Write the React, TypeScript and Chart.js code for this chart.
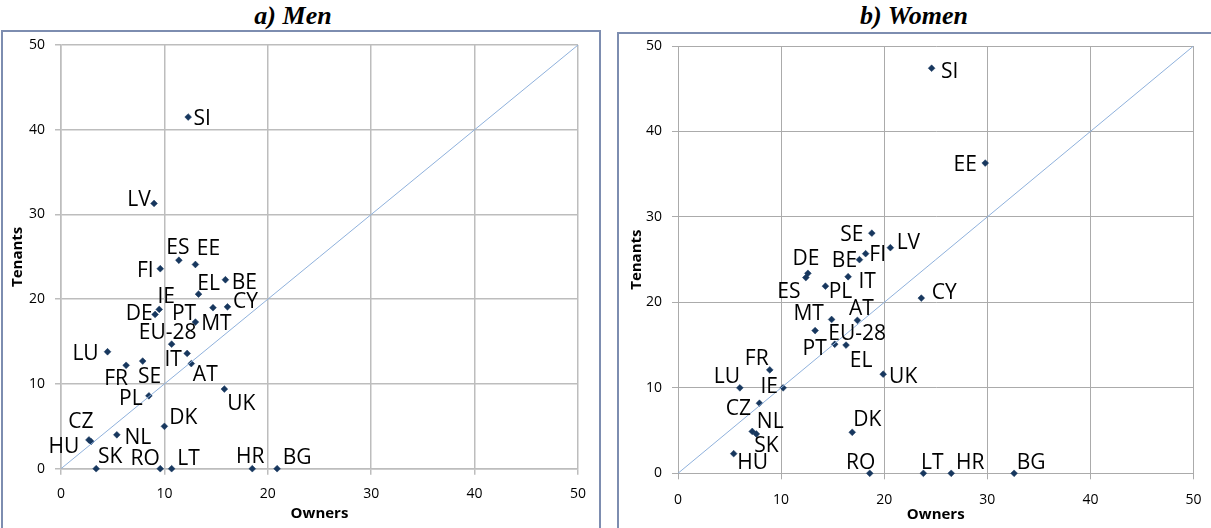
import React, { useEffect, useRef } from "react";
import { Chart, registerables } from "chart.js";
Chart.register(...registerables);

// ---- Data: a) Men ----
const menCountries = ["SI", "LV", "ES", "EE", "FI", "EL", "BE", "IE", "DE", "PT", "CY", "MT", "EU-28", "LU", "IT", "SE", "FR", "AT", "UK", "PL", "DK", "NL", "CZ", "HU", "SK", "RO", "LT", "HR", "BG"];
const menOwners = [12.3, 9.0, 11.4, 13.0, 9.6, 13.3, 15.9, 9.5, 9.1, 14.7, 16.1, 13.0, 10.7, 4.5, 12.2, 7.9, 6.3, 12.6, 15.8, 8.5, 10.0, 5.4, 2.7, 2.9, 3.4, 9.6, 10.7, 18.5, 20.9];
const menTenants = [41.5, 31.3, 24.6, 24.1, 23.6, 20.6, 22.3, 18.8, 18.2, 19.0, 19.1, 17.3, 14.7, 13.8, 13.6, 12.7, 12.2, 12.4, 9.4, 8.6, 5.0, 4.0, 3.4, 3.2, 0, 0, 0, 0, 0];

// ---- Data: b) Women ----
const womenCountries = ["SI", "EE", "SE", "LV", "FI", "BE", "DE", "ES", "IT", "PL", "CY", "AT", "MT", "EU-28", "PT", "EL", "UK", "FR", "LU", "IE", "CZ", "NL", "SK", "HU", "DK", "RO", "LT", "HR", "BG"];
const womenOwners = [24.6, 29.8, 18.8, 20.6, 18.2, 17.6, 12.6, 12.4, 16.5, 14.3, 23.6, 17.4, 14.9, 13.3, 15.2, 16.3, 19.9, 8.9, 6.0, 10.2, 7.9, 7.2, 7.6, 5.4, 16.9, 18.6, 23.8, 26.5, 32.6];
const womenTenants = [47.4, 36.3, 28.1, 26.4, 25.7, 25.0, 23.4, 22.9, 23.0, 21.9, 20.5, 17.9, 18.0, 16.7, 15.1, 15.0, 11.6, 12.1, 10.0, 10.0, 8.2, 4.9, 4.6, 2.3, 4.8, 0, 0, 0, 0];

// ---- Axes ----
const axisMin = 0;
const axisMax = 50;
const axisStep = 10;
const diagonalEnds = [0, 50];

// label placement (pixel offsets of label centre from its marker)
const menLabelOffsets: Record<string, [number, number]> = {
  SI: [14, 0], LV: [-15, -5], ES: [-1, -14], EE: [13, -17], FI: [-15, 1], EL: [10, -12],
  BE: [19, 2], IE: [7, -14], DE: [-16, -2], PT: [-29, 5], CY: [18, -6], MT: [21, 0],
  "EU-28": [-4, -13], LU: [-22, 1], IT: [-14, 5], SE: [7, 14], FR: [-10, 12], AT: [14, 10],
  UK: [17, 13], PL: [-18, 2], DK: [19, -10], NL: [21, 2], CZ: [-8, -19], HU: [-27, 4],
  SK: [14, -13], RO: [-15, -11], LT: [17, -11], HR: [-2, -13], BG: [20, -12],
};
const womenLabelOffsets: Record<string, [number, number]> = {
  SI: [18, 2], EE: [-20, 0], SE: [-20, 0], LV: [18, -6], FI: [12, 0], BE: [-15, 0],
  DE: [-2, -16], ES: [-17, 13], IT: [19, 4], PL: [15, 4], CY: [23, -7], AT: [4, -13],
  MT: [-23, -7], "EU-28": [42, 2], PT: [-20, 3], EL: [15, 14], UK: [20, 1], FR: [-13, -12],
  LU: [-13, -12], IE: [-14, -2], CZ: [-21, 4], NL: [18, -11], SK: [10, 11], HU: [19, 8],
  DK: [15, -14], RO: [-9, -12], LT: [9, -12], HR: [19, -12], BG: [17, -12],
};

type PanelProps = {
  names: string[];
  owners: number[];
  tenants: number[];
  offsets: Record<string, [number, number]>;
  width: number;
  height: number;
  yAxisWidth: number;
  xAxisHeight: number;
  padRight: number;
  padTop: number;
  yTitlePad: number;
  xTitlePad: number;
  xTickPad: number;
  gridColor: string;
  gridWidth: number;
};

function Panel(p: PanelProps) {
  const ref = useRef<HTMLCanvasElement | null>(null);
  useEffect(() => {
    if (!ref.current) return;
    const labelFontSize = 21;
    const labelPlugin = {
      id: "countryLabels",
      afterDatasetsDraw(chart: any) {
        const ctx = chart.ctx;
        const meta = chart.getDatasetMeta(1);
        ctx.save();
        ctx.font = `${labelFontSize}px "Open Sans"`;
        ctx.fillStyle = "#000000";
        ctx.textAlign = "center";
        ctx.textBaseline = "alphabetic";
        meta.data.forEach((el: any, i: number) => {
          const name = p.names[i];
          const off = p.offsets[name] || [12, 0];
          ctx.fillText(name, el.x + off[0], el.y + off[1] + labelFontSize * 0.357);
        });
        ctx.restore();
      },
    };
    const points = p.owners.map((o, i) => ({ x: o, y: p.tenants[i] }));
    const diag = diagonalEnds.map((v) => ({ x: v, y: v }));
    const tickFont = { family: "Open Sans", size: 14 };
    const chart = new Chart(ref.current, {
      type: "scatter",
      data: {
        datasets: [
          {
            data: diag,
            showLine: true,
            borderColor: "#8fb1dc",
            borderWidth: 1,
            pointRadius: 0,
            pointHoverRadius: 0,
          } as any,
          {
            data: points,
            pointStyle: "rectRot",
            pointRadius: 3.4,
            pointBackgroundColor: "#17375e",
            pointBorderColor: "#17375e",
            pointBorderWidth: 0.5,
            showLine: false,
            clip: false,
          } as any,
        ],
      },
      options: {
        responsive: false,
        animation: false,
        events: [],
        layout: { padding: { left: 0, right: p.padRight, top: p.padTop, bottom: 0 } },
        plugins: { legend: { display: false }, tooltip: { enabled: false }, title: { display: false } },
        scales: {
          x: {
            type: "linear",
            min: axisMin,
            max: axisMax,
            afterFit: (s: any) => { s.height = p.xAxisHeight; s.paddingLeft = 0; s.paddingRight = 0; },
            ticks: { stepSize: axisStep, color: "#000", font: tickFont, padding: p.xTickPad, maxRotation: 0 },
            grid: { color: p.gridColor, lineWidth: p.gridWidth, tickLength: 6, tickColor: p.gridColor },
            border: { color: p.gridColor, width: p.gridWidth },
            title: { display: true, text: "Owners", color: "#000", font: { family: "Open Sans", size: 15, weight: "bold" }, padding: { top: 0, bottom: p.xTitlePad } },
          },
          y: {
            type: "linear",
            min: axisMin,
            max: axisMax,
            afterFit: (s: any) => { s.width = p.yAxisWidth; s.paddingTop = 0; s.paddingBottom = 0; },
            ticks: { stepSize: axisStep, color: "#000", font: tickFont, padding: 10 },
            grid: { color: p.gridColor, lineWidth: p.gridWidth, tickLength: 6, tickColor: p.gridColor },
            border: { color: p.gridColor, width: p.gridWidth },
            title: { display: true, text: "Tenants", color: "#000", font: { family: "Open Sans", size: 15, weight: "bold" }, padding: { top: p.yTitlePad, bottom: 0 } },
          },
        },
      } as any,
      plugins: [labelPlugin],
    });
    return () => chart.destroy();
  }, []);
  return <canvas ref={ref} width={p.width} height={p.height} style={{ display: "block", width: p.width, height: p.height }} />;
}

export default function App() {
  const titleStyle: React.CSSProperties = {
    position: "absolute",
    top: 0,
    height: 32,
    lineHeight: "32px",
    fontFamily: '"Liberation Serif", "Times New Roman", serif',
    fontWeight: "bold",
    fontStyle: "italic",
    fontSize: 26,
    textAlign: "center",
    color: "#000",
  };
  const border = "2px solid #7d8db0";
  return (
    <div style={{ position: "fixed", left: 0, top: 0, width: 1211, height: 528, overflow: "hidden", background: "#fff" }}>
      <div style={{ ...titleStyle, left: 193, width: 200 }}>a) Men</div>
      <div style={{ ...titleStyle, left: 814, width: 200 }}>b) Women</div>
      <div style={{ position: "absolute", left: 1, top: 30, borderLeft: border, borderTop: border, borderRight: border, width: 596, height: 496 }}>
        <Panel
          names={menCountries}
          owners={menOwners}
          tenants={menTenants}
          offsets={menLabelOffsets}
          width={596}
          height={496}
          yAxisWidth={58}
          xAxisHeight={59.3}
          padRight={21}
          padTop={13}
          yTitlePad={6}
          xTitlePad={5}
          xTickPad={11}
          gridColor="#bdbdbd"
          gridWidth={1.5}
        />
      </div>
      <div style={{ position: "absolute", left: 617, top: 32, borderLeft: border, borderTop: border, width: 594, height: 494 }}>
        <Panel
          names={womenCountries}
          owners={womenOwners}
          tenants={womenTenants}
          offsets={womenLabelOffsets}
          width={592}
          height={494}
          yAxisWidth={59}
          xAxisHeight={54.7}
          padRight={17.5}
          padTop={12}
          yTitlePad={9}
          xTitlePad={4}
          xTickPad={12}
          gridColor="#ababab"
          gridWidth={1}
        />
      </div>
    </div>
  );
}
